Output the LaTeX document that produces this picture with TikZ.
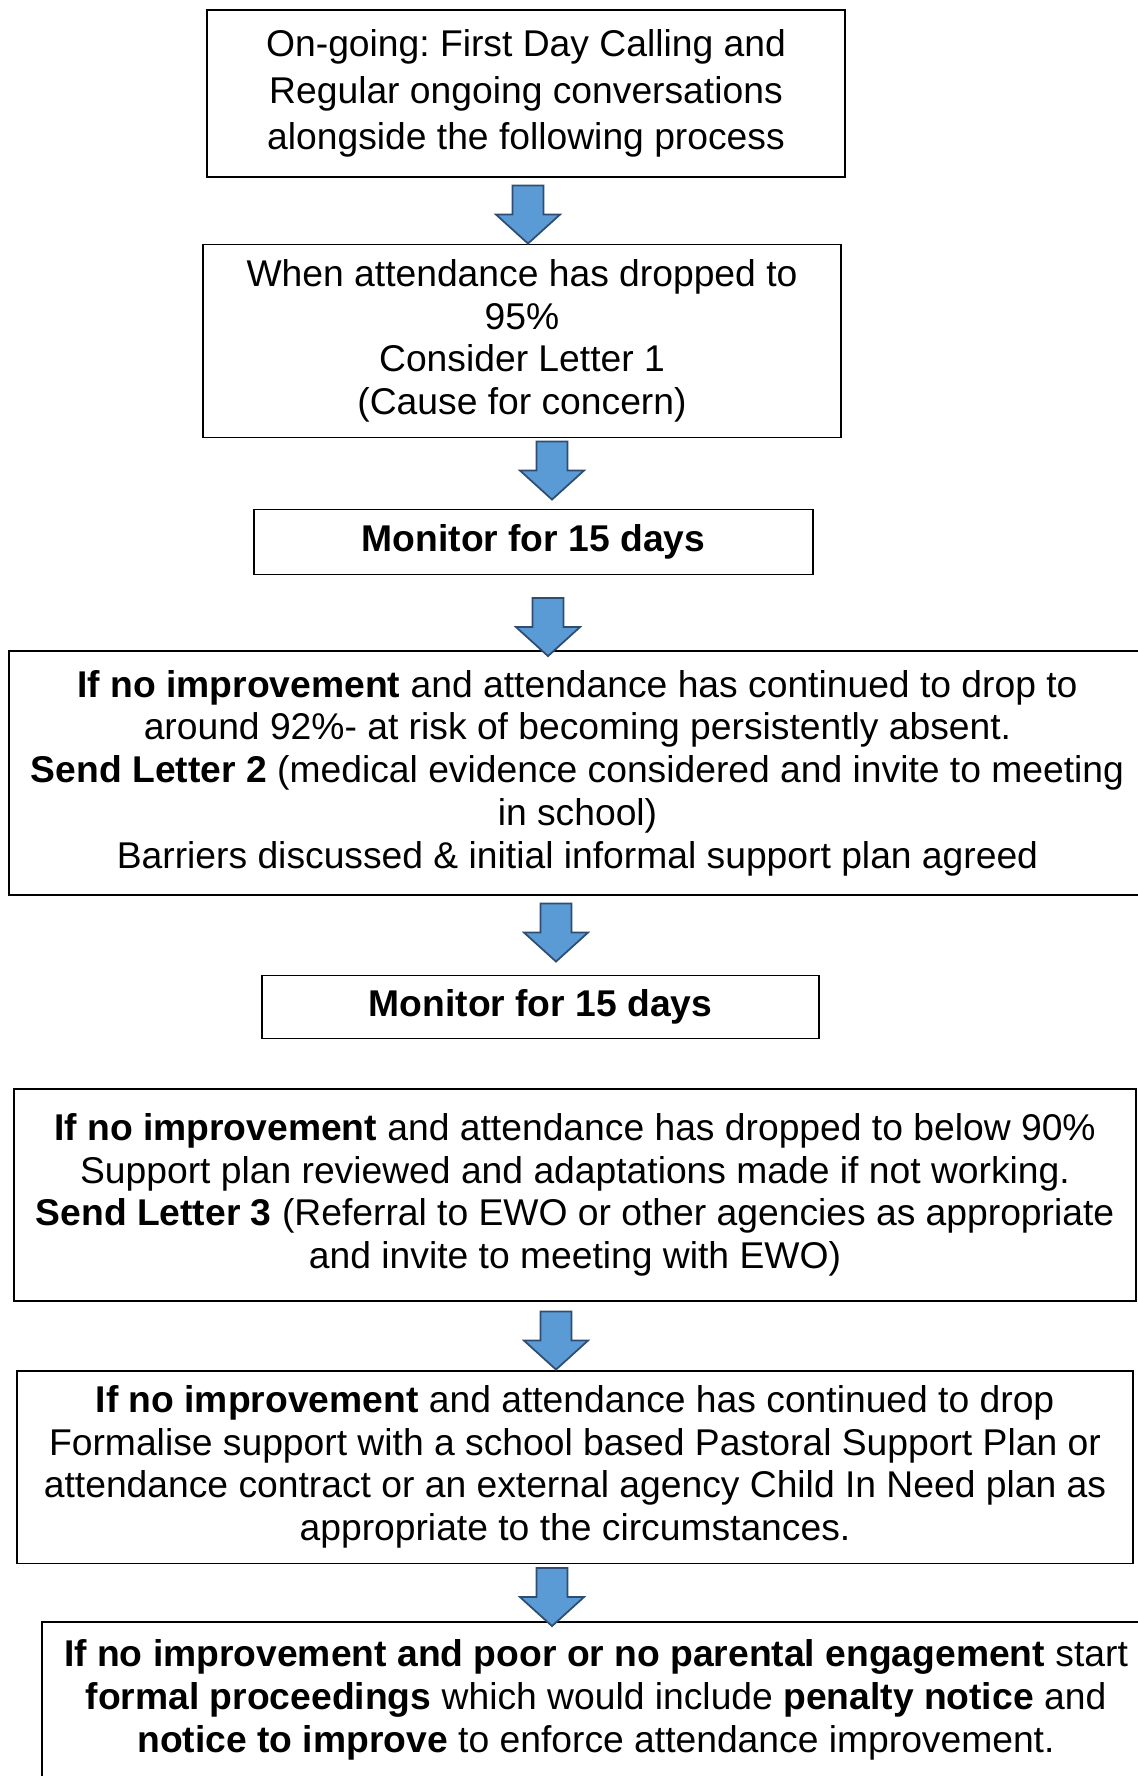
\documentclass[tikz,border=0pt]{standalone}
\usepackage{fontspec}
\setmainfont{Liberation Sans}
\frenchspacing
\usetikzlibrary{calc}
\definecolor{arrowblue}{HTML}{5B9BD5}
\definecolor{arrowedge}{HTML}{2E4D70}
% block arrow, tip at #1
\newcommand{\flowarrow}[1]{\draw[arrowedge,fill=arrowblue,line width=1pt,line join=miter] #1 -- ++(-32,-29) -- ++(16.5,0) -- ++(0,-29) -- ++(31,0) -- ++(0,29) -- ++(16.5,0) -- cycle;}
\begin{document}
\begin{tikzpicture}[x=0.02cm,y=-0.02cm,
  box/.style={rectangle,draw=black,line width=1.1pt,fill=white,align=center,inner sep=0pt,font=\fontsize{21.2pt}{24.3pt}\selectfont}]
\useasboundingbox (0,0) rectangle (1138,1776);
\clip (0,0) rectangle (1138,1776);

\node (b1) at (526,93.5)[box,minimum width=12.76cm,minimum height=3.34cm,font=\fontsize{21.2pt}{26.4pt}\selectfont]{On-going: First Day Calling and\\Regular ongoing conversations\\alongside the following process};
\node (b2) at (522,341)[box,minimum width=12.76cm,minimum height=3.86cm]{When attendance has dropped to\\95\%\\Consider Letter 1\\(Cause for concern)};
\node (b3) at (533.5,542)[box,minimum width=11.18cm,minimum height=1.30cm]{\textbf{Monitor for 15 days}};
\node (b4) at (577.5,773)[box,minimum width=22.74cm,minimum height=4.88cm]{\textbf{If no improvement} and attendance has continued to drop to\\around 92\%- at risk of becoming persistently absent.\\\textbf{Send Letter 2} (medical evidence considered and invite to meeting\\in school)\\Barriers discussed \& initial informal support plan agreed};
\node (b5) at (540.5,1007)[box,minimum width=11.14cm,minimum height=1.26cm]{\textbf{Monitor for 15 days}};
\node (b6) at (575,1195)[box,minimum width=22.44cm,minimum height=4.24cm]{\textbf{If no improvement} and attendance has dropped to below 90\%\\Support plan reviewed and adaptations made if not working.\\\textbf{Send Letter 3} (Referral to EWO or other agencies as appropriate\\and invite to meeting with EWO)};
\node (b7) at (575,1467)[box,minimum width=22.32cm,minimum height=3.86cm]{\textbf{If no improvement} and attendance has continued to drop\\Formalise support with a school based Pastoral Support Plan or\\attendance contract or an external agency Child In Need plan as\\appropriate to the circumstances.};
\node (b8) at (596,1700)[box,minimum width=22.16cm,minimum height=3.12cm]{\textbf{If no improvement and poor or no parental engagement} start\\\textbf{formal proceedings} which would include \textbf{penalty notice} and\\\textbf{notice to improve} to enforce attendance improvement.};

\flowarrow{($(b2.north)+(6,0)$)}
\flowarrow{($(b3.north)+(18.5,-9)$)}
\flowarrow{($(b4.north)+(-29.5,6)$)}
\flowarrow{($(b5.north)+(15.5,-13)$)}
\flowarrow{($(b7.north)+(-19,0)$)}
\flowarrow{($(b8.north)+(-44,5)$)}
\end{tikzpicture}
\end{document}
